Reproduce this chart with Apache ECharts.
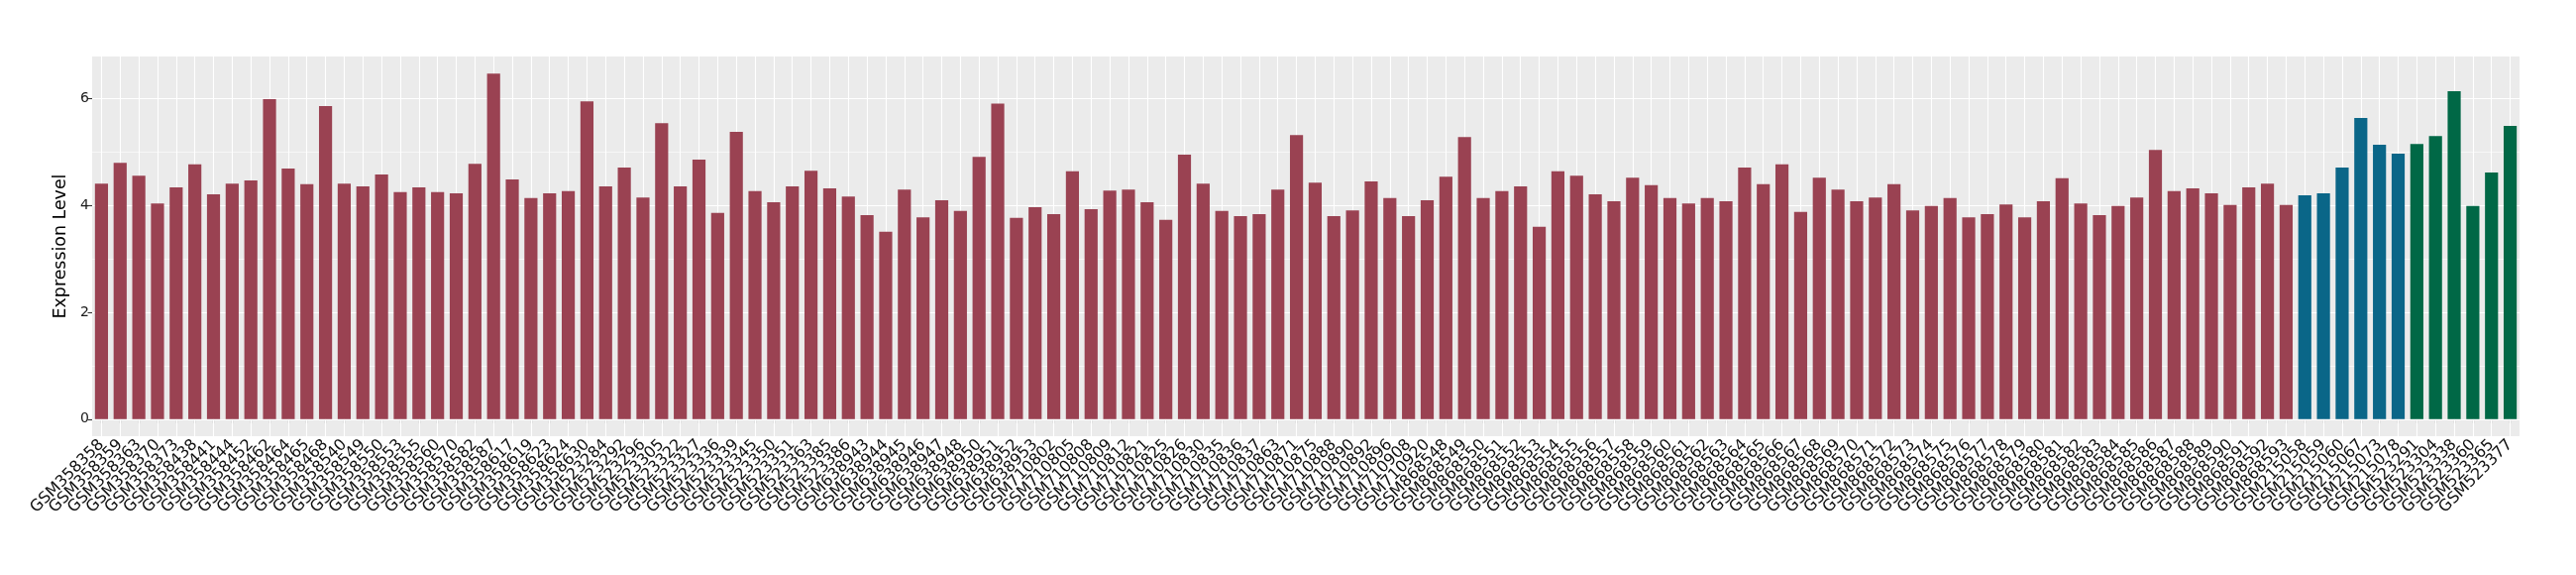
<!DOCTYPE html>
<html>
<head>
<meta charset="utf-8">
<script src="https://cdn.jsdelivr.net/npm/echarts@6/dist/echarts.min.js"></script>
<style>
html,body{margin:0;padding:0;background:#ffffff;}
#chart{width:2600px;height:580px;}
</style>
</head>
<body>
<div id="chart"></div>
<script>
// ---- data ----
const groupACategories = [
  "GSM358358","GSM358359","GSM358363","GSM358370","GSM358373","GSM358438","GSM358441","GSM358444","GSM358452","GSM358462",
  "GSM358464","GSM358465","GSM358468","GSM358540","GSM358549","GSM358550","GSM358553","GSM358555","GSM358560","GSM358570",
  "GSM358582","GSM358587","GSM358617","GSM358619","GSM358623","GSM358624","GSM358630","GSM523284","GSM523292","GSM523296",
  "GSM523305","GSM523322","GSM523327","GSM523336","GSM523339","GSM523345","GSM523350","GSM523351","GSM523363","GSM523385",
  "GSM523386","GSM638943","GSM638944","GSM638945","GSM638946","GSM638947","GSM638948","GSM638950","GSM638951","GSM638952",
  "GSM638953","GSM710802","GSM710805","GSM710808","GSM710809","GSM710812","GSM710821","GSM710825","GSM710826","GSM710830",
  "GSM710835","GSM710836","GSM710837","GSM710863","GSM710871","GSM710875","GSM710888","GSM710890","GSM710892","GSM710896",
  "GSM710908","GSM710920","GSM868548","GSM868549","GSM868550","GSM868551","GSM868552","GSM868553","GSM868554","GSM868555",
  "GSM868556","GSM868557","GSM868558","GSM868559","GSM868560","GSM868561","GSM868562","GSM868563","GSM868564","GSM868565",
  "GSM868566","GSM868567","GSM868568","GSM868569","GSM868570","GSM868571","GSM868572","GSM868573","GSM868574","GSM868575",
  "GSM868576","GSM868577","GSM868578","GSM868579","GSM868580","GSM868581","GSM868582","GSM868583","GSM868584","GSM868585",
  "GSM868586","GSM868587","GSM868588","GSM868589","GSM868590","GSM868591","GSM868592","GSM868593"
];
const groupAValues = [
  4.41,4.80,4.56,4.04,4.34,4.77,4.21,4.41,4.47,5.99,
  4.69,4.40,5.86,4.41,4.36,4.58,4.25,4.34,4.25,4.23,
  4.78,6.47,4.49,4.14,4.23,4.27,5.95,4.36,4.71,4.15,
  5.54,4.36,4.86,3.86,5.38,4.27,4.06,4.36,4.65,4.32,
  4.17,3.82,3.51,4.30,3.78,4.10,3.90,4.91,5.91,3.77,
  3.97,3.84,4.64,3.93,4.28,4.30,4.06,3.73,4.95,4.41,
  3.90,3.80,3.84,4.30,5.32,4.43,3.80,3.91,4.45,4.14,
  3.80,4.10,4.54,5.28,4.14,4.27,4.36,3.60,4.64,4.56,
  4.21,4.08,4.52,4.38,4.14,4.04,4.14,4.08,4.71,4.40,
  4.77,3.88,4.52,4.30,4.08,4.15,4.40,3.91,3.99,4.14,
  3.78,3.84,4.02,3.78,4.08,4.51,4.04,3.82,3.99,4.15,
  5.04,4.27,4.32,4.23,4.01,4.34,4.41,4.01
];
const groupBCategories = ["GSM215058","GSM215059","GSM215060","GSM215067","GSM215073","GSM215078"];
const groupBValues = [4.19,4.23,4.71,5.64,5.14,4.97];
const groupCCategories = ["GSM523291","GSM523304","GSM523338","GSM523360","GSM523365","GSM523377"];
const groupCValues = [5.15,5.30,6.14,3.99,4.62,5.49];
const yTickValues = [0, 2, 4, 6];
const yMinorValues = [1, 3, 5];
const yAxisTitle = "Expression Level";

// ---- styles ----
const groupColors = ["#9A4252", "#0A6688", "#006846"];

const categories = groupACategories.concat(groupBCategories, groupCCategories);
const barData = [];
[[groupAValues, 0], [groupBValues, 1], [groupCValues, 2]].forEach(([vals, gi]) => {
  vals.forEach(v => barData.push({ value: v, itemStyle: { color: groupColors[gi] } }));
});

const gridLines = [];
yTickValues.forEach(v => gridLines.push({ yAxis: v, lineStyle: { color: "#ffffff", width: 1.2, type: "solid" } }));
yMinorValues.forEach(v => gridLines.push({ yAxis: v, lineStyle: { color: "#ffffff", width: 0.6, type: "solid" } }));
categories.forEach(c => gridLines.push({ xAxis: c, lineStyle: { color: "#ffffff", width: 1.1, type: "solid" } }));

const chart = echarts.init(document.getElementById("chart"), null, { renderer: "canvas" });
chart.setOption({
  animation: false,
  backgroundColor: "#ffffff",
  grid: {
    left: 93, right: 57, top: 57, bottom: 140,
    show: true, backgroundColor: "#EBEBEB", borderWidth: 0
  },
  xAxis: {
    type: "category",
    data: categories,
    boundaryGap: true,
    axisLine: { show: false },
    axisTick: { show: true, alignWithLabel: true, length: 4.5, lineStyle: { color: "#333333", width: 1.1 } },
    axisLabel: {
      interval: 0, rotate: 45, fontSize: 16, fontFamily: "DejaVu Sans",
      color: "#111111", margin: 6, padding: [7, 0, 0, 0]
    },
    splitLine: { show: false }
  },
  yAxis: {
    type: "value",
    min: -0.32, max: 6.79,
    name: yAxisTitle,
    nameLocation: "middle",
    nameGap: 18,
    nameTextStyle: { fontSize: 17.4, fontFamily: "DejaVu Sans", color: "#000000" },
    axisLine: { show: false },
    axisTick: { show: true, customValues: yTickValues, length: 4.5, lineStyle: { color: "#333333", width: 1.1 } },
    axisLabel: { customValues: yTickValues, fontSize: 14, fontFamily: "DejaVu Sans", color: "#1a1a1a", margin: 3 },
    splitLine: { show: false }
  },
  series: [{
    type: "bar",
    data: barData,
    barWidth: "70%",
    z: 2,
    emphasis: { disabled: true },
    markLine: {
      silent: true,
      z: 1,
      symbol: ["none", "none"],
      label: { show: false },
      animation: false,
      emphasis: { disabled: true },
      data: gridLines
    }
  }]
});
</script>
</body>
</html>
